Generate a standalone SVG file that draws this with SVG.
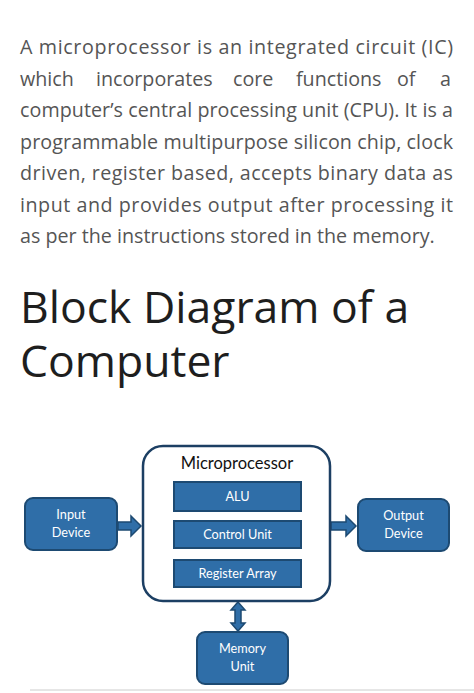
<svg xmlns="http://www.w3.org/2000/svg" width="474" height="693" viewBox="0 0 474 693">
<style>
.p{font-family:"Open Sans","Liberation Sans",sans-serif;font-size:19.7px;fill:#555}
.h{font-family:"Open Sans","Liberation Sans",sans-serif;font-size:44.5px;fill:#1e1e1e}
.box{fill:#2f6ea8;stroke:#1d4a72;stroke-width:2}
.lbl{font-family:"Lato","Liberation Sans",sans-serif;font-size:12.7px;fill:#fff;text-anchor:middle}
.arr{fill:#2f6ea8;stroke:#1d4a72;stroke-width:1.5;stroke-linejoin:miter}
</style>
<rect width="474" height="693" fill="#fff"/>
<g id="paragraph">
<text class="p" x="20" y="54" textLength="433" lengthAdjust="spacing">A microprocessor is an integrated circuit (IC)</text>
<text class="p" y="85.5"><tspan x="20">which</tspan><tspan x="96">incorporates</tspan><tspan x="233">core</tspan><tspan x="296">functions</tspan><tspan x="397">of</tspan><tspan x="440">a</tspan></text>
<text class="p" x="20" y="117" textLength="433" lengthAdjust="spacing">computer’s central processing unit (CPU). It is a</text>
<text class="p" x="20" y="148.5" textLength="433" lengthAdjust="spacing">programmable multipurpose silicon chip, clock</text>
<text class="p" x="20" y="180" textLength="433" lengthAdjust="spacing">driven, register based, accepts binary data as</text>
<text class="p" x="20" y="211.5" textLength="433" lengthAdjust="spacing">input and provides output after processing it</text>
<text class="p" x="20" y="243">as per the instructions stored in the memory.</text>
</g>
<g id="heading">
<text class="h"><tspan x="20" y="323">Block Diagram of a</tspan><tspan x="20" y="377">Computer</tspan></text>
</g>
<g id="connectors">
<polygon class="arr" points="118,522 131,522 131,516 141,526 131,536 131,530 118,530"/>
<polygon class="arr" points="331,522 346,522 346,516 356,526 346,536 346,530 331,530"/>
<polygon class="arr" points="238,602 245,610 241,610 241,623 245,623 238,631 231,623 235,623 235,610 231,610"/>
</g>
<g id="microprocessor">
<rect x="143" y="446" width="187" height="155" rx="20" fill="#fff" stroke="#1c3f63" stroke-width="2.5"/>
<text x="237" y="469" font-family="Lato,'Liberation Sans',sans-serif" font-size="16.5" fill="#111" text-anchor="middle">Microprocessor</text>
</g>
<g id="alu">
<rect class="box" x="174" y="482" width="127" height="29"/>
<text class="lbl" x="237.5" y="501">ALU</text>
</g>
<g id="control-unit">
<rect class="box" x="174" y="521" width="127" height="27"/>
<text class="lbl" x="237.5" y="539">Control Unit</text>
</g>
<g id="register-array">
<rect class="box" x="174" y="560" width="127" height="27"/>
<text class="lbl" x="237.5" y="578">Register Array</text>
</g>
<g id="input-device">
<rect class="box" x="25" y="498" width="92" height="52" rx="8"/>
<text class="lbl" x="71" y="519">Input</text>
<text class="lbl" x="71" y="537">Device</text>
</g>
<g id="output-device">
<rect class="box" x="358" y="499" width="91" height="52" rx="8"/>
<text class="lbl" x="403.5" y="520">Output</text>
<text class="lbl" x="403.5" y="538">Device</text>
</g>
<g id="memory-unit">
<rect class="box" x="197" y="632" width="91" height="52" rx="8"/>
<text class="lbl" x="242.5" y="653">Memory</text>
<text class="lbl" x="242.5" y="671">Unit</text>
</g>
<line x1="30" y1="690" x2="474" y2="690" stroke="#ccc" stroke-width="1"/>
</svg>
